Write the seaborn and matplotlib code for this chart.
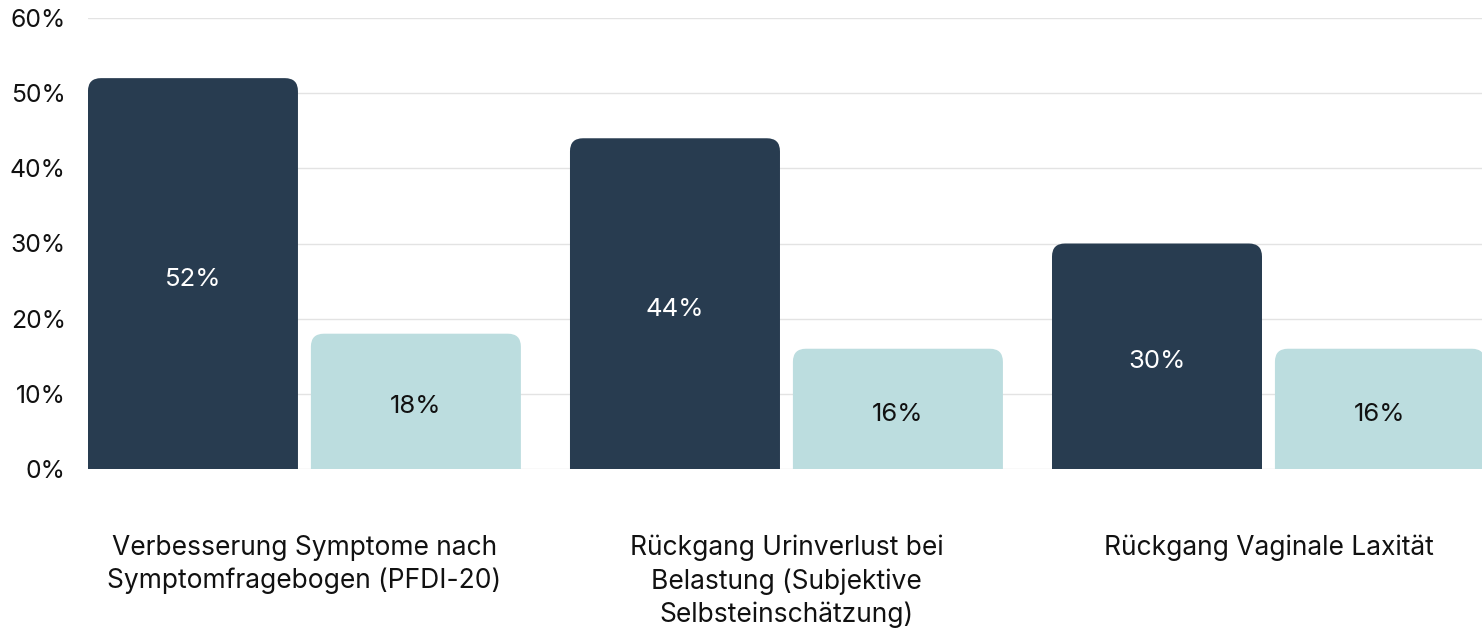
import matplotlib
matplotlib.use("Agg")
import matplotlib.pyplot as plt
import seaborn as sns
import pandas as pd
from matplotlib.patches import FancyBboxPatch

categories = [
    "Verbesserung Symptome nach\nSymptomfragebogen (PFDI-20)",
    "Rückgang Urinverlust bei\nBelastung (Subjektive\nSelbsteinschätzung)",
    "Rückgang Vaginale Laxität",
]
series_names = ["Gruppe A", "Gruppe B"]
values_a = [52, 44, 30]
values_b = [18, 16, 16]
y_ticks = [0, 10, 20, 30, 40, 50, 60]
y_tick_labels = ["0%", "10%", "20%", "30%", "40%", "50%", "60%"]

dark = "#283C50"
light = "#BCDDDF"

df = pd.DataFrame({
    "Kategorie": categories * 2,
    "Wert": values_a + values_b,
    "Serie": [series_names[0]] * 3 + [series_names[1]] * 3,
})

sns.set_theme(style="white")
plt.rcParams["font.family"] = ["Inter", "DejaVu Sans"]

W, H, DPI = 14.82, 6.33, 100
fig = plt.figure(figsize=(W, H), dpi=DPI)
ax = fig.add_axes([88 / 1482, 1 - 469 / 633, 1 - 88 / 1482, (469 - 18) / 633])

sns.barplot(data=df, x="Kategorie", y="Wert", hue="Serie",
            palette=[dark, light], width=0.925, gap=0.058,
            saturation=1, legend=False, ax=ax, errorbar=None)

ax.set_xlim(-0.449, 2.443)
ax.set_ylim(0, 60)
ax.set_yticks(y_ticks)
ax.set_yticklabels(y_tick_labels)
ax.set_xlabel("")
ax.set_ylabel("")
for s in ax.spines.values():
    s.set_visible(False)
ax.yaxis.grid(True, color="#E3E3E3", linewidth=1.0)
ax.set_axisbelow(True)
ax.tick_params(axis="y", length=0, pad=16, labelsize=17.8, labelcolor="#111111")
ax.tick_params(axis="x", length=0, pad=47.5, labelsize=19, labelcolor="#111111")
for lbl in ax.get_xticklabels():
    lbl.set_linespacing(1.32)

# rounded tops
fig.canvas.draw()
ax_w_px = ax.get_window_extent().width
ax_h_px = ax.get_window_extent().height
x_per_px = (ax.get_xlim()[1] - ax.get_xlim()[0]) / ax_w_px
y_per_px = (ax.get_ylim()[1] - ax.get_ylim()[0]) / ax_h_px
radius_px = 13
r = radius_px * x_per_px
aspect = y_per_px / x_per_px

for p in list(ax.patches):
    x, w, h = p.get_x(), p.get_width(), p.get_height()
    fc = p.get_facecolor()
    p.remove()
    box = FancyBboxPatch((x, -5), w, h + 5,
                         boxstyle=f"round,pad=0,rounding_size={r}",
                         mutation_aspect=aspect, facecolor=fc,
                         edgecolor="none", zorder=2)
    ax.add_patch(box)
    lum = 0.299 * fc[0] + 0.587 * fc[1] + 0.114 * fc[2]
    tc = "white" if lum < 0.5 else "#111111"
    ax.annotate(f"{h:.0f}%", (x + w / 2, h / 2), xytext=(0, -4),
                textcoords="offset points", ha="center", va="center",
                fontsize=18.5, color=tc, zorder=3)

fig.savefig("out.png", dpi=DPI)
